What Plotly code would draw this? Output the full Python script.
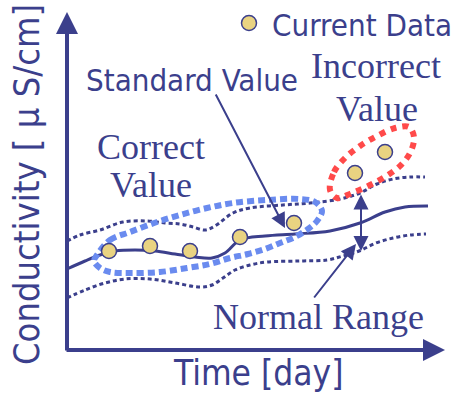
import plotly.graph_objects as go

# ---- data (time in arbitrary day units, conductivity in arbitrary units) ----
data_t = [42, 83, 123, 173, 227, 288, 318]
data_c = [99, 104, 99, 113, 127, 177, 198]

std_t = [0, 18, 33, 48, 68, 88, 108, 128, 145, 158, 173, 198, 228, 263, 293, 318, 338, 361]
std_c = [81, 89, 95, 99, 100, 99, 96, 93, 92, 97, 110, 114, 116, 119, 127, 138, 143, 144]

upper_t = [0, 13, 33, 56, 80, 98, 113, 126, 138, 148, 166, 183, 216, 243, 273, 293, 310, 326, 343, 358]
upper_c = [109, 115, 120, 128, 129, 127, 126, 123, 120, 124, 137, 142, 145, 147, 151, 157, 166, 171, 173, 173]

lower_t = [0, 18, 38, 58, 83, 108, 133, 145, 156, 168, 183, 200, 233, 260, 276, 292, 309, 326, 343, 359]
lower_c = [52, 60, 67, 71, 71, 67, 63, 65, 72, 80, 85, 88, 89, 90, 94, 99, 107, 112, 115, 116]

correct_t = [30, 43, 63, 90, 113, 140, 166, 200, 233, 248, 255, 250, 241, 228, 213, 198, 181, 163,
             143, 120, 93, 63, 43, 33, 27, 30]
correct_c = [95, 110, 118, 128, 135, 142, 147, 150, 151, 148, 139, 129, 121, 113, 107, 101, 96, 92,
             86, 82, 78, 77, 78, 82, 89, 95]

incorrect_t = [263, 267, 278, 293, 310, 328, 342, 347, 344, 335, 321, 303, 285, 270, 263]
incorrect_c = [160, 178, 192, 204, 214, 222, 223, 213, 199, 186, 175, 165, 157, 152, 160]

NAVY = "#3b3f8c"
GOLD = "#e9d381"
BLUE = "#6a8bef"
RED = "#ff4a4a"
SANS = "DejaVu Sans Condensed, DejaVu Sans"
SERIF = "Liberation Serif"

fig = go.Figure()

fig.add_trace(go.Scatter(x=upper_t, y=upper_c, mode="lines",
                         line=dict(color=NAVY, width=3, dash="4px,3px", shape="spline", smoothing=1)))
fig.add_trace(go.Scatter(x=lower_t, y=lower_c, mode="lines",
                         line=dict(color=NAVY, width=3, dash="4px,3px", shape="spline", smoothing=1)))
fig.add_trace(go.Scatter(x=std_t, y=std_c, mode="lines",
                         line=dict(color=NAVY, width=3, shape="spline", smoothing=1)))
fig.add_trace(go.Scatter(x=correct_t, y=correct_c, mode="lines",
                         line=dict(color=BLUE, width=6, dash="7px,4px", shape="spline", smoothing=1)))
fig.add_trace(go.Scatter(x=incorrect_t, y=incorrect_c, mode="lines",
                         line=dict(color=RED, width=6, dash="6px,6px", shape="spline", smoothing=1)))
fig.add_trace(go.Scatter(x=data_t, y=data_c, mode="markers",
                         marker=dict(size=15, color=GOLD, line=dict(color=NAVY, width=1.5))))
# legend marker
fig.add_trace(go.Scatter(x=[182], y=[327], mode="markers",
                         marker=dict(size=15, color=GOLD, line=dict(color=NAVY, width=1.5))))

def arrow(x0, y0, x1, y1, width, size, side="end"):
    fig.add_annotation(x=x1, y=y1, ax=x0, ay=y0, xref="x", yref="y", axref="x", ayref="y",
                       text="", showarrow=True, arrowhead=2, arrowside=side,
                       startarrowhead=2, arrowwidth=width, arrowsize=size, startarrowsize=size,
                       arrowcolor=NAVY)

# axes
arrow(0, -2, 0, 338, 4, 1.1)
arrow(-2, 0, 378, 0, 4, 1.1)
# pointers
arrow(148, 257, 218, 122, 2, 1.5)
arrow(294, 157, 294, 99, 2, 1.5, side="end+start")
arrow(246, 51, 289, 106, 2, 1.5)

def label(text, x, y, size, family, xanchor="center", angle=0):
    fig.add_annotation(x=x, y=y, xref="x", yref="y", text=text, showarrow=False,
                       xanchor=xanchor, yanchor="middle", textangle=angle,
                       font=dict(family=family, size=size, color=NAVY))

label("Current Data", 203, 325, 31, SANS, xanchor="left")
label("Standard Value", 17, 270, 31, SANS, xanchor="left")
label("Correct", 84, 203, 36, SERIF)
label("Value", 84, 165, 36, SERIF)
label("Incorrect", 309, 284, 36, SERIF)
label("Value", 310, 241, 36, SERIF)
label("Normal Range", 251, 33, 36, SERIF)
label("Time [day]", 104, -23, 35, SANS, xanchor="left")
label("Conductivity [ μ S/cm]", -41, 165, 36, SANS, angle=-90)

fig.update_layout(width=452, height=393, margin=dict(l=0, r=0, t=0, b=0),
                  paper_bgcolor="white", plot_bgcolor="white", showlegend=False,
                  xaxis=dict(range=[-67, 385], visible=False, fixedrange=True),
                  yaxis=dict(range=[-43, 350], visible=False, fixedrange=True))

fig.write_html("out.html", config={"staticPlot": True, "displayModeBar": False},
               post_script="document.body.style.margin='0';document.body.style.overflow='hidden';")
